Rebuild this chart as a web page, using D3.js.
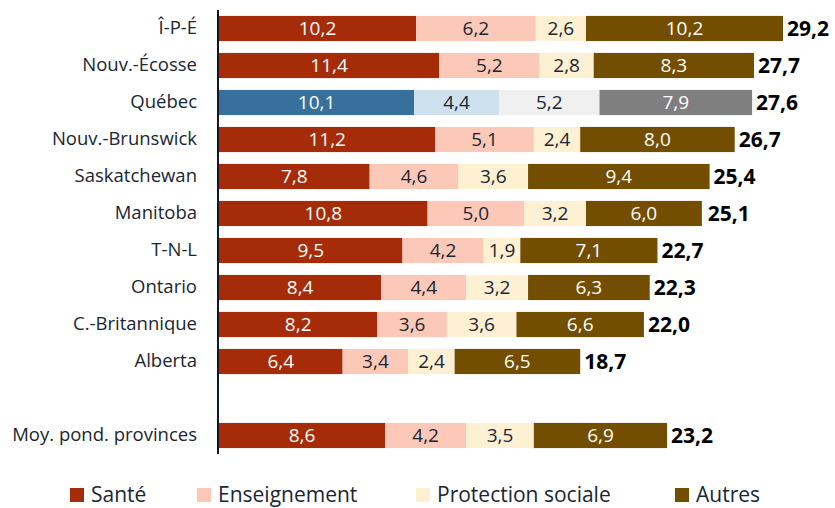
<!DOCTYPE html>
<html>
<head>
<meta charset="utf-8">
<script src="https://cdn.jsdelivr.net/npm/d3@7"></script>
<style>
  html, body { margin: 0; padding: 0; background: #fff; }
  svg { display: block; }
</style>
</head>
<body>
<svg id="chart" width="835" height="508"></svg>
<script>
// Dépenses par fonction, en % du PIB, par province
const provinces = ["Î-P-É", "Nouv.-Écosse", "Québec", "Nouv.-Brunswick", "Saskatchewan",
  "Manitoba", "T-N-L", "Ontario", "C.-Britannique", "Alberta", "", "Moy. pond. provinces"];
const series = ["Santé", "Enseignement", "Protection sociale", "Autres"];
const sante        = [10.2, 11.4, 10.1, 11.2, 7.8, 10.8, 9.5, 8.4, 8.2, 6.4, null, 8.6];
const enseignement = [6.2, 5.2, 4.4, 5.1, 4.6, 5.0, 4.2, 4.4, 3.6, 3.4, null, 4.2];
const protection   = [2.6, 2.8, 5.2, 2.4, 3.6, 3.2, 1.9, 3.2, 3.6, 2.4, null, 3.5];
const autres       = [10.2, 8.3, 7.9, 8.0, 9.4, 6.0, 7.1, 6.3, 6.6, 6.5, null, 6.9];
const totaux       = [29.2, 27.7, 27.6, 26.7, 25.4, 25.1, 22.7, 22.3, 22.0, 18.7, null, 23.2];

const colors = ["#a62c09", "#fcc9b8", "#fef0d3", "#734d00"];
const colorsQc = ["#37709b", "#cde1ee", "#f0f0f0", "#7f7f7f"];
const labelOnDark = [true, false, false, true];

const svg = d3.select("#chart");
const font = "'Open Sans', 'Noto Sans', sans-serif";
const textDark = "#1a2632";

const keys = provinces.map(p => p === "" ? "__vide" : p);
const y = d3.scaleBand().domain(keys).range([10, 454]).paddingInner(0.32).paddingOuter(0.16);
const x = d3.scaleLinear().domain([0, 29.2]).range([219, 783]);

const cols = [sante, enseignement, protection, autres];
const rows = keys.map((k, i) => ({ key: k, name: provinces[i], vals: cols.map(c => c[i]), total: totaux[i] }))
  .filter(r => r.total !== null);

const fmt = v => d3.format(".1f")(v).replace(".", ",");

const g = svg.append("g");
rows.forEach(r => {
  const isQc = r.name === "Québec";
  let acc = 0;
  r.vals.forEach((v, j) => {
    const x0 = x(acc), x1 = x(acc + v);
    acc += v;
    g.append("rect")
      .attr("x", x0).attr("y", y(r.key))
      .attr("width", x1 - x0).attr("height", y.bandwidth())
      .attr("fill", (isQc ? colorsQc : colors)[j]);
    g.append("text")
      .attr("x", (x0 + x1) / 2).attr("y", y(r.key) + y.bandwidth() / 2)
      .attr("dy", "0.36em").attr("text-anchor", "middle")
      .attr("font-family", font).attr("font-size", 19)
      .attr("fill", labelOnDark[j] ? "#ffffff" : textDark)
      .text(fmt(v));
  });
  g.append("text")
    .attr("x", x(r.total) + 4).attr("y", y(r.key) + y.bandwidth() / 2)
    .attr("dy", "0.36em").attr("text-anchor", "start")
    .attr("font-family", font).attr("font-size", 21).attr("font-weight", "bold")
    .attr("fill", "#000")
    .text(fmt(r.total));
});

// Axe des catégories
const yAxis = d3.axisLeft(y).tickSize(0).tickPadding(21)
  .tickFormat(k => k === "__vide" ? "" : k);
const ax = svg.append("g").attr("transform", "translate(218,0)").call(yAxis);
ax.select(".domain").attr("stroke", "#0d1a26").attr("stroke-width", 2).attr("d", "M0,10V454");
ax.selectAll("text").attr("font-family", font).attr("font-size", 18.5).attr("fill", textDark);

// Légende
const legendX = [70, 197, 416, 675];
const leg = svg.append("g");
series.forEach((s, i) => {
  leg.append("rect").attr("x", legendX[i]).attr("y", 488).attr("width", 14).attr("height", 14)
    .attr("fill", colors[i]);
  leg.append("text").attr("x", legendX[i] + 21).attr("y", 494).attr("dy", "0.36em")
    .attr("font-family", font).attr("font-size", 21).attr("fill", textDark).text(s);
});
</script>
</body>
</html>
